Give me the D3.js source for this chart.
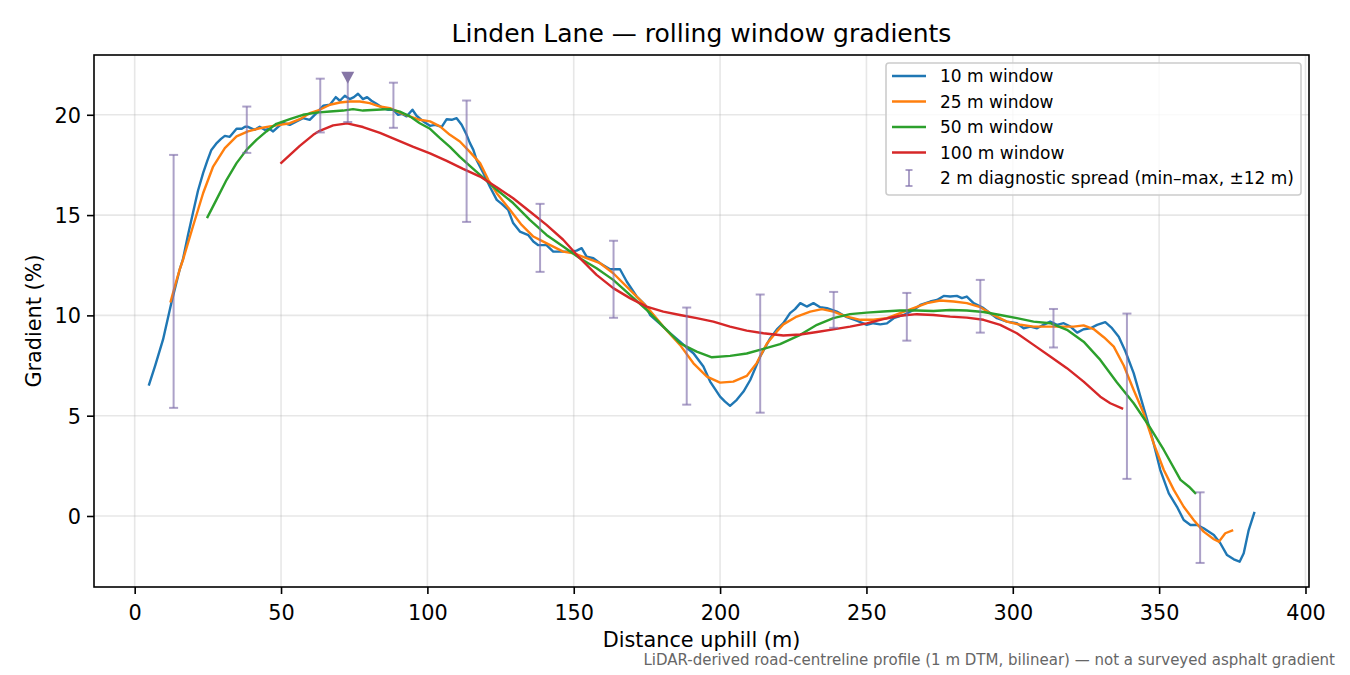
<!DOCTYPE html>
<html>
<head>
<meta charset="utf-8">
<script src="https://cdn.jsdelivr.net/npm/d3@7"></script>
<style>
  html, body { margin: 0; padding: 0; background: #fff; }
  svg { display: block; font-family: "DejaVu Sans", sans-serif; }
</style>
</head>
<body>
<svg id="chart" width="1350" height="675"></svg>
<script>
// ---------- data (distance m, gradient %) ----------
const window10 = [[4.8,6.5],[7,7.5],[9.7,8.8],[12.5,10.6],[15.4,12.3],[16.5,12.8],[18.2,14.0],[19.9,15.1],[21.6,16.2],[23.4,17.1],[24.8,17.7],[26.2,18.25],[28.1,18.6],[29.5,18.8],[30.8,18.95],[32.5,18.9],[34.8,19.3],[36.6,19.3],[37.7,19.4],[38.7,19.4],[41,19.25],[42.7,19.4],[44.4,19.25],[46,19.3],[47.3,19.17],[49,19.4],[50.7,19.6],[53,19.5],[55.3,19.67],[57.5,19.83],[59.8,19.75],[62.1,20.08],[64.4,20.45],[66.7,20.5],[68.7,20.88],[70.1,20.7],[71.8,20.95],[73.5,20.78],[74.9,20.88],[76.3,21.05],[78,20.78],[79.4,20.88],[80.9,20.7],[82.6,20.55],[84.9,20.33],[86.6,20.25],[88.3,20.25],[90,20.0],[91.2,20.05],[92.9,19.92],[94.9,20.25],[96.3,19.95],[98.6,19.67],[100.9,19.45],[102.6,19.5],[104.9,19.4],[106.6,19.78],[108.3,19.75],[110,19.83],[111.7,19.5],[113.4,19.0],[114.5,18.6],[115.7,18.25],[116.8,17.75],[119.1,17.1],[121.4,16.4],[123.7,15.76],[125.4,15.56],[127.6,15.26],[129.3,14.6],[131.6,14.18],[134.5,14.0],[136.2,13.68],[137.9,13.5],[140.7,13.5],[143,13.18],[146.4,13.18],[148.7,13.18],[151,13.23],[152.7,13.35],[154.4,12.93],[156.7,12.85],[159,12.6],[162.4,12.3],[165.8,12.3],[168.1,11.69],[171.5,10.94],[174.4,10.52],[176.1,10.02],[179.5,9.58],[182.9,9.11],[186.3,8.69],[188.5,8.4],[190.9,8.11],[194.3,7.45],[196.6,6.7],[200,5.95],[201.7,5.7],[203.4,5.49],[205.7,5.79],[208,6.2],[210.3,6.78],[213.7,7.95],[217.1,8.85],[219.4,9.3],[221.6,9.61],[223.9,10.11],[225.6,10.31],[227.4,10.61],[229.6,10.44],[231.9,10.61],[234.2,10.41],[236.5,10.36],[239.9,10.19],[243.3,9.91],[246.7,9.74],[250.1,9.53],[252.4,9.61],[254.7,9.55],[257,9.6],[259.3,9.86],[262.7,10.02],[266.1,10.27],[268.4,10.52],[271.8,10.69],[274.1,10.77],[276.4,10.97],[278.6,10.94],[280.9,10.97],[282.6,10.86],[284.3,10.94],[286.6,10.61],[290,10.36],[292.3,10.11],[294.6,9.86],[298,9.69],[301.4,9.61],[303.7,9.36],[306,9.44],[308.3,9.36],[310.5,9.53],[312.8,9.69],[315.1,9.53],[317.4,9.61],[319.7,9.44],[322,9.14],[324.2,9.31],[326.5,9.36],[328.8,9.53],[331.6,9.66],[333.9,9.36],[336.2,8.94],[338.5,8.2],[341.3,7.12],[343.6,5.95],[345.9,4.79],[348.1,3.63],[350.4,2.29],[353.3,1.13],[356.1,0.46],[358.4,-0.2],[360.7,-0.45],[363,-0.45],[365.2,-0.61],[368.7,-0.95],[370.9,-1.36],[373.2,-1.95],[375.5,-2.16],[377.5,-2.28],[378.9,-1.86],[380.6,-0.7],[382.6,0.21]];

const window25 = [[12.2,10.64],[14,11.6],[15.4,12.3],[16.5,12.77],[19.9,14.43],[23.4,16.1],[26.8,17.42],[30.8,18.34],[34.8,18.92],[38.7,19.17],[42.7,19.33],[46.2,19.42],[49.6,19.5],[53,19.58],[56.4,19.78],[59.8,20.08],[63.2,20.25],[66.7,20.5],[70.1,20.61],[73.5,20.66],[76.9,20.66],[80.3,20.58],[83.8,20.41],[87.2,20.33],[90.6,20.11],[94,19.92],[97.4,19.75],[100.9,19.67],[104.3,19.42],[107.7,19.0],[111.1,18.67],[114.5,18.15],[118,17.59],[120.8,16.76],[123.7,16.09],[128.2,15.26],[132.2,14.51],[136.2,13.93],[139.6,13.68],[143,13.43],[146.4,13.18],[149.9,13.1],[154.4,12.85],[159,12.6],[163.5,12.1],[169.2,11.27],[174.9,10.44],[180.6,9.44],[186.3,8.53],[190.9,7.61],[195.5,6.95],[200,6.65],[204.5,6.7],[209.1,6.98],[212.5,7.62],[216,8.6],[219.4,9.2],[221.6,9.55],[226.2,9.94],[230.8,10.19],[234.8,10.31],[238.7,10.19],[243.3,9.94],[247.9,9.78],[252.4,9.78],[257,9.86],[261.5,10.11],[266.1,10.36],[270.7,10.61],[275.2,10.74],[279.8,10.69],[284.3,10.61],[288.9,10.41],[293.4,10.02],[298,9.69],[302.6,9.53],[307.1,9.44],[311.7,9.44],[316.2,9.44],[320.8,9.44],[324.2,9.5],[327.6,9.32],[331.2,8.9],[334.5,8.44],[337.9,7.5],[341.3,6.28],[344.7,5.12],[348.1,3.63],[351.6,2.29],[355,1.3],[358.4,0.46],[361.8,-0.2],[365.2,-0.78],[368.7,-1.16],[370.4,-1.28],[372.6,-0.86],[375.3,-0.7]];

const window50 = [[24.7,14.85],[27.9,15.76],[31.4,16.76],[34.8,17.59],[38.2,18.25],[41.6,18.75],[45,19.17],[48.4,19.55],[53,19.78],[57.5,20.0],[62.1,20.11],[66.7,20.16],[71.2,20.21],[74.6,20.28],[78,20.21],[82.6,20.25],[87.2,20.28],[90.6,20.16],[94,19.92],[97.4,19.58],[100.9,19.3],[104.3,18.84],[107.7,18.4],[111.1,17.9],[114.5,17.45],[118,17.0],[123.7,16.26],[129.3,15.6],[135,14.76],[140.7,14.01],[146.4,13.43],[152.1,12.85],[157.8,12.35],[163.5,11.77],[169.2,11.02],[174.9,10.27],[180.6,9.44],[186.3,8.61],[192,8.19],[197.2,7.91],[203.4,7.98],[209.1,8.1],[214.8,8.33],[220.5,8.57],[227.4,9.03],[233.1,9.53],[238.7,9.86],[244.4,10.06],[250.1,10.14],[255.8,10.19],[261.5,10.24],[267.2,10.24],[272.9,10.22],[278.6,10.27],[284.3,10.24],[290,10.17],[295.7,10.02],[301.4,9.86],[307.1,9.69],[312.8,9.61],[318.5,9.28],[324.2,8.69],[329.9,7.78],[335.6,6.65],[341.3,5.62],[346.5,4.5],[351.6,3.29],[357.3,1.8],[360.2,1.46],[362.6,1.1]];

const window100 = [[49.8,17.57],[56.4,18.45],[61,19.0],[63.2,19.2],[67.8,19.47],[72.6,19.57],[78,19.39],[83.8,19.1],[89.5,18.75],[95.2,18.4],[100.9,18.08],[106.6,17.7],[112.2,17.3],[118,16.92],[123.7,16.39],[129.3,15.84],[135,15.18],[140.7,14.51],[146.4,13.77],[152.1,12.85],[157.8,12.02],[163.5,11.36],[169.2,10.86],[174.9,10.44],[180.6,10.19],[186.3,10.02],[192,9.86],[197.7,9.69],[203.4,9.44],[209.1,9.24],[214.8,9.11],[221.6,9.0],[227.4,9.05],[233.1,9.17],[238.7,9.3],[244.4,9.44],[250.1,9.6],[255.8,9.81],[261.5,9.98],[267.2,10.06],[272.9,10.02],[278.6,9.94],[284.3,9.89],[290,9.78],[295.7,9.53],[301.4,9.11],[307.1,8.53],[312.8,7.95],[318.5,7.37],[324.2,6.7],[329.9,5.95],[333.3,5.62],[337.7,5.34]];

// 2 m diagnostic spread (min–max, ±12 m)
const spreadX  = [13.3,38.3,63.4,88.4,113.4,138.5,163.6,188.6,213.7,238.8,263.8,288.9,313.9,339,364];
const spreadLo = [5.39,18.1,19.12,19.35,14.66,12.17,9.88,5.55,5.15,9.38,8.74,9.14,8.4,1.85,-2.34];
const spreadHi = [18.0,20.41,21.8,21.6,20.71,15.56,13.72,10.39,11.04,11.17,11.12,11.77,10.32,10.09,1.18];

// peak marker
const peakX = [72.8];
const peakLo = [19.64];
const peakHi = [21.85];

const xTicks = [0,50,100,150,200,250,300,350,400];
const yTicks = [0,5,10,15,20];

const seriesNames = ["10 m window","25 m window","50 m window","100 m window"];
const seriesColors = ["#1f77b4","#ff7f0e","#2ca02c","#d62728"];
const seriesData = [window10, window25, window50, window100];

// ---------- layout ----------
const svg = d3.select("#chart");
const L = 94, R = 1309, T = 55, B = 587;
const x = d3.scaleLinear().domain([-13.9, 401.2]).range([L, R]);
const y = d3.scaleLinear().domain([-3.54, 22.98]).range([B, T]);

const FONT = 20.8;
const spreadColor = "rgba(128,110,170,0.65)";

// grid
const grid = svg.append("g");
grid.selectAll("line.gx").data(xTicks).join("line")
  .attr("x1", d => x(d)).attr("x2", d => x(d)).attr("y1", T).attr("y2", B)
  .attr("stroke", "#b0b0b0").attr("stroke-opacity", 0.3).attr("stroke-width", 1.6);
grid.selectAll("line.gy").data(yTicks).join("line")
  .attr("y1", d => y(d)).attr("y2", d => y(d)).attr("x1", L).attr("x2", R)
  .attr("stroke", "#b0b0b0").attr("stroke-opacity", 0.3).attr("stroke-width", 1.6);

// clip
svg.append("clipPath").attr("id", "clip").append("rect")
  .attr("x", L).attr("y", T).attr("width", R - L).attr("height", B - T);
const plot = svg.append("g").attr("clip-path", "url(#clip)");

// lines
const line = d3.line().x(d => x(d[0])).y(d => y(d[1]));
seriesData.forEach((s, i) => {
  plot.append("path").datum(s).attr("d", line)
    .attr("fill", "none").attr("stroke", seriesColors[i])
    .attr("stroke-width", 2.4).attr("stroke-linejoin", "round").attr("stroke-linecap", "butt");
});

// spread error bars
const cap = 4.5;
const eb = plot.append("g").attr("stroke", spreadColor).attr("stroke-width", 2);
spreadX.forEach((sx, i) => {
  const px = x(sx);
  eb.append("line").attr("x1", px).attr("x2", px).attr("y1", y(spreadLo[i])).attr("y2", y(spreadHi[i]));
  eb.append("line").attr("x1", px - cap).attr("x2", px + cap).attr("y1", y(spreadLo[i])).attr("y2", y(spreadLo[i]));
  eb.append("line").attr("x1", px - cap).attr("x2", px + cap).attr("y1", y(spreadHi[i])).attr("y2", y(spreadHi[i]));
});
peakX.forEach((pxv, i) => {
  const px = x(pxv);
  eb.append("line").attr("x1", px).attr("x2", px).attr("y1", y(peakLo[i])).attr("y2", y(peakHi[i]));
  eb.append("line").attr("x1", px - cap).attr("x2", px + cap).attr("y1", y(peakLo[i])).attr("y2", y(peakLo[i]));
  const py = y(peakHi[i]);
  plot.append("path")
    .attr("d", `M${px - 6.5},${py - 6} L${px + 6.5},${py - 6} L${px},${py + 6} Z`)
    .attr("fill", "#8676a6");
});

// spines
svg.append("rect").attr("x", L).attr("y", T).attr("width", R - L).attr("height", B - T)
  .attr("fill", "none").attr("stroke", "#000").attr("stroke-width", 1.6);

// axes ticks
const xAxis = svg.append("g").attr("transform", `translate(0,${B})`)
  .call(d3.axisBottom(x).tickValues(xTicks).tickSize(7).tickPadding(6).tickFormat(d3.format("d")));
const yAxis = svg.append("g").attr("transform", `translate(${L},0)`)
  .call(d3.axisLeft(y).tickValues(yTicks).tickSize(7).tickPadding(6).tickFormat(d3.format("d")));
[xAxis, yAxis].forEach(a => {
  a.select(".domain").remove();
  a.selectAll(".tick line").attr("stroke", "#000").attr("stroke-width", 1.6);
  a.selectAll(".tick text").attr("fill", "#000").attr("font-size", FONT)
    .attr("font-family", "DejaVu Sans");
});
xAxis.selectAll(".tick text").attr("dy", "0.95em");
yAxis.selectAll(".tick text").attr("dy", "0.36em");

// title and labels
svg.append("text").attr("x", (L + R) / 2).attr("y", 42).attr("text-anchor", "middle")
  .attr("font-size", 25).attr("fill", "#000").text("Linden Lane — rolling window gradients");
svg.append("text").attr("x", (L + R) / 2).attr("y", 647).attr("text-anchor", "middle")
  .attr("font-size", FONT).attr("fill", "#000").text("Distance uphill (m)");
svg.append("text").attr("transform", `translate(41,${(T + B) / 2}) rotate(-90)`)
  .attr("text-anchor", "middle").attr("font-size", FONT).attr("fill", "#000").text("Gradient (%)");
svg.append("text").attr("x", 1335).attr("y", 665).attr("text-anchor", "end")
  .attr("font-size", 15).attr("fill", "#666").text("LiDAR-derived road-centreline profile (1 m DTM, bilinear) — not a surveyed asphalt gradient");

// legend
const lg = svg.append("g");
lg.append("rect").attr("x", 886).attr("y", 63).attr("width", 415).attr("height", 132)
  .attr("rx", 3).attr("fill", "rgba(255,255,255,0.8)").attr("stroke", "#cccccc").attr("stroke-width", 1.6);
const legendItems = seriesNames.map((n, i) => ({ name: n, color: seriesColors[i], type: "line" }))
  .concat([{ name: "2 m diagnostic spread (min–max, ±12 m)", color: spreadColor, type: "err" }]);
legendItems.forEach((it, i) => {
  const cy = 76 + i * 25.5;
  if (it.type === "line") {
    lg.append("line").attr("x1", 892).attr("x2", 926).attr("y1", cy).attr("y2", cy)
      .attr("stroke", it.color).attr("stroke-width", 2.4);
  } else {
    const g = lg.append("g").attr("stroke", it.color).attr("stroke-width", 2);
    g.append("line").attr("x1", 909).attr("x2", 909).attr("y1", cy - 8).attr("y2", cy + 8);
    g.append("line").attr("x1", 905.5).attr("x2", 912.5).attr("y1", cy - 8).attr("y2", cy - 8);
    g.append("line").attr("x1", 905.5).attr("x2", 912.5).attr("y1", cy + 8).attr("y2", cy + 8);
  }
  lg.append("text").attr("x", 940).attr("y", cy).attr("dy", "0.36em")
    .attr("font-size", 17).attr("fill", "#000").text(it.name);
});
</script>
</body>
</html>
